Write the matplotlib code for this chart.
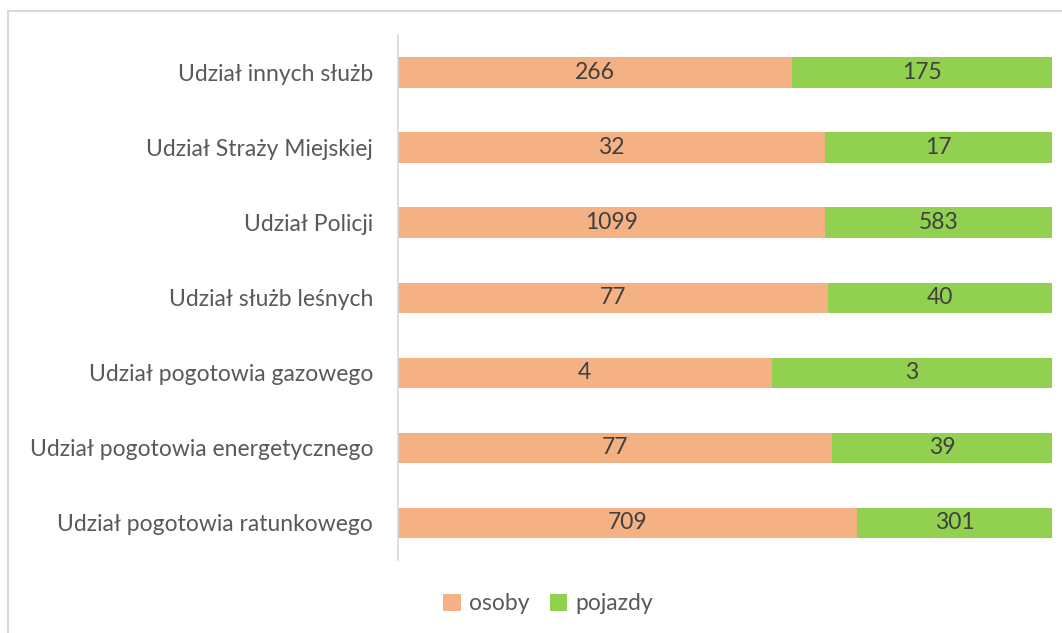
import numpy as np
import matplotlib.pyplot as plt
from matplotlib.lines import Line2D

# categories bottom -> top
categories = ["Udział pogotowia ratunkowego", "Udział pogotowia energetycznego",
              "Udział pogotowia gazowego", "Udział służb leśnych", "Udział Policji",
              "Udział Straży Miejskiej", "Udział innych służb"]
osoby = [709, 77, 4, 77, 1099, 32, 266]
pojazdy = [301, 39, 3, 40, 583, 17, 175]

plt.rcParams['font.family'] = ['Lato', 'DejaVu Sans']
text_col = '#595959'
c_osoby = '#F4B183'
c_pojazdy = '#92D050'
fs = 16.5

W, H = 1062, 633
fig = plt.figure(figsize=(W / 100, H / 100), dpi=100)
ax = fig.add_axes([398 / W, 1 - 560 / H, (1052 - 398) / W, 525 / H])

osoby_a = np.array(osoby, dtype=float)
pojazdy_a = np.array(pojazdy, dtype=float)
tot = osoby_a + pojazdy_a
p1 = osoby_a / tot
p2 = pojazdy_a / tot
y = np.arange(len(categories))

b1 = ax.barh(y, p1, height=0.4, color=c_osoby, label='osoby')
b2 = ax.barh(y, p2, left=p1, height=0.4, color=c_pojazdy, label='pojazdy')
ax.bar_label(b1, labels=[str(v) for v in osoby], label_type='center', fontsize=fs, color='#404040')
ax.bar_label(b2, labels=[str(v) for v in pojazdy], label_type='center', fontsize=fs, color='#404040')

ax.set_xlim(0, 1)
ax.set_ylim(-0.5, len(categories) - 0.5)
ax.set_yticks(y)
ax.set_yticklabels(categories, fontsize=fs, color=text_col)
ax.tick_params(axis='y', length=0, pad=18)
ax.set_xticks([])
for s in ['top', 'right', 'bottom']:
    ax.spines[s].set_visible(False)
ax.spines['left'].set_color('#D9D9D9')
ax.spines['left'].set_linewidth(1.2)

fig.legend(handles=[b1, b2], labels=['osoby', 'pojazdy'], loc='center',
           bbox_to_anchor=(548 / W, 1 - 604 / H), ncol=2, frameon=False,
           fontsize=fs, labelcolor=text_col, handlelength=0.75, handleheight=0.75,
           handletextpad=0.35, columnspacing=0.9)

# outer chart border (only top and left visible in the crop)
fig.add_artist(Line2D([8 / W, 1.0], [1 - 11 / H, 1 - 11 / H], transform=fig.transFigure,
                      color='#D9D9D9', lw=1.5))
fig.add_artist(Line2D([8 / W, 8 / W], [1 - 11 / H, 0.0], transform=fig.transFigure,
                      color='#D9D9D9', lw=1.5))

fig.savefig('out.png', dpi=100)
